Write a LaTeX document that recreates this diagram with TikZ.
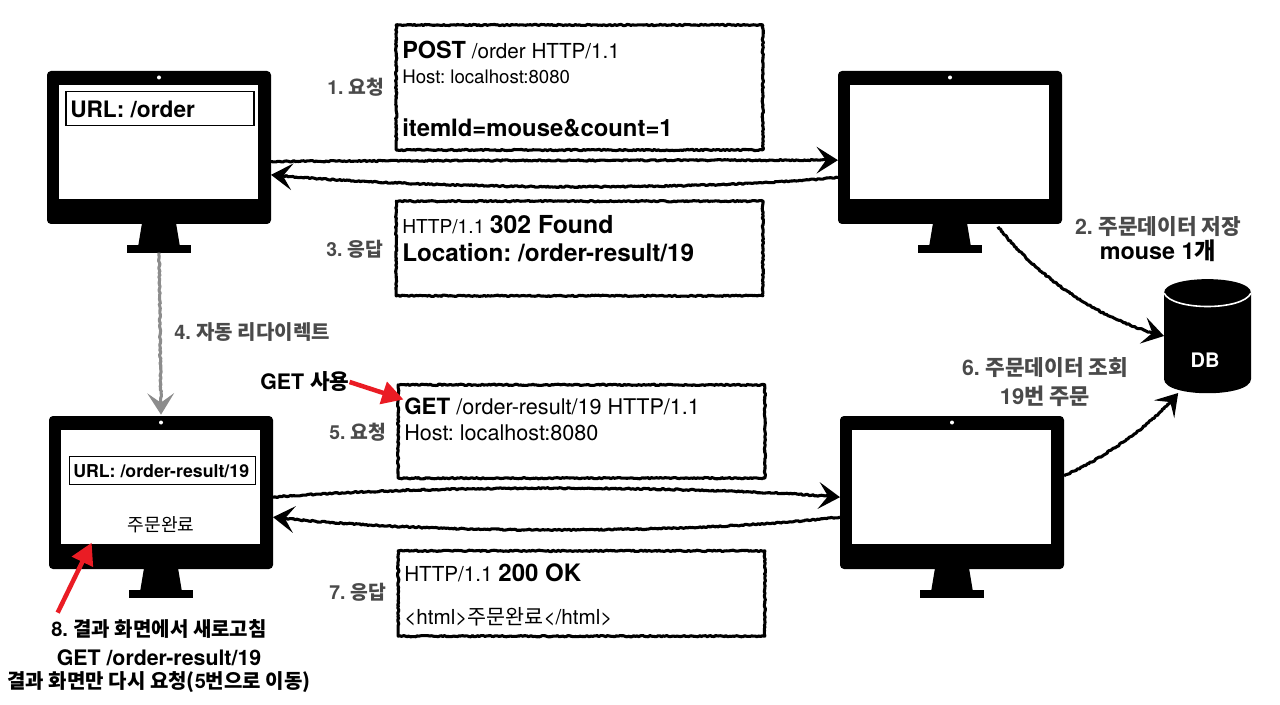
\documentclass[tikz,border=0pt]{standalone}
\usepackage{fontspec}
\setmainfont{TeX Gyre Heros}
\newfontfamily\kofont{Noto Sans CJK KR}
\newcommand{\ko}[1]{{\kofont #1}}
\usetikzlibrary{arrows.meta,decorations.pathmorphing}
\newcommand{\fs}[1]{\fontsize{#1}{#1}\selectfont}
\definecolor{stepgray}{HTML}{4A4A4A}
\definecolor{markred}{HTML}{EA1C24}
\tikzset{
    sketch/.style={line join=round,decorate,decoration={random steps,segment length=1.3pt,amplitude=0.5pt,post length=5pt}},
    monitor/.style={fill=black,rounded corners=3pt,minimum width=168pt,minimum height=114.75pt,inner sep=0pt,outer sep=0pt},
    screen/.style={fill=white,minimum width=149.25pt,minimum height=85.5pt,inner sep=0pt,outer sep=0pt},
    camdot/.style={fill=white,circle,minimum size=3pt,inner sep=0pt},
    standbase/.style={fill=black,minimum width=48pt,minimum height=5.5pt,inner sep=0pt,outer sep=0pt},
    urlbox/.style={draw,line width=0.8pt,fill=white,inner sep=0pt,outer sep=0pt},
    reqbox/.style={draw,sketch,line width=2.3pt,minimum width=275pt,inner sep=0pt,outer sep=0pt},
    boxtext/.style={anchor=north west,align=left,inner sep=0pt},
    steplabel/.style={text=stepgray,font=\bfseries\fs{14.5},inner sep=0pt},
    flow/.style={sketch,line width=2.3pt,-{Stealth[length=16pt,width=20pt,inset=7pt]}},
    markarrow/.style={draw=markred,line width=3.4pt,-{Triangle[length=16pt,width=17pt]},markred},
}
\begin{document}
\frenchspacing
\begin{tikzpicture}[x=0.75pt,y=-0.75pt]
    \useasboundingbox (0,0) rectangle (1280,705);
    \pgfmathsetseed{19}

    % four monitors, given by their top left corner
    \foreach \name/\x/\y in {client1/47/71,server1/838/71,client2/49/416,server2/840/416}{
        \node[monitor] (\name) at (\x+112,\y+76.5) {};
        \node[screen] (\name screen) at (\x+111.5,\y+71) {};
        \node[camdot] (\name cam) at (\x+112,\y+6.5) {};
        \fill (\x+95,\y+152) -- (\x+129,\y+152) -- (\x+133,\y+176) -- (\x+91,\y+176) -- cycle;
        \node[standbase] (\name base) at (\x+112,\y+178) {};
    }

    \node[urlbox,minimum width=141pt,minimum height=26pt] (url1) at (160,108.5) {};
    \node[anchor=base west,inner sep=0pt,font=\bfseries\fs{17}] (url1text) at (70,118) {URL: /order};
    \node[urlbox,minimum width=140pt,minimum height=21.5pt] (url2) at (162.5,470.5) {};
    \node[anchor=base west,inner sep=0pt,font=\bfseries\fs{13.3}] (url2text) at (73,477) {URL: /order-result/19};
    \node[inner sep=0pt,font=\fs{13.6}] (done) at (161,525) {\ko{주문완료}};

    % messages
    \node[reqbox,minimum height=93.75pt] (req1) at (579.5,87.5) {};
    \node[reqbox,minimum height=71pt] (res1) at (579.5,248.5) {};
    \node[reqbox,minimum height=70pt] (req2) at (581.5,431.5) {};
    \node[reqbox,minimum height=64pt] (res2) at (581.5,593.5) {};

    \node[boxtext,font=\fontsize{14}{18.75}\selectfont] (req1text) at (402,41) {{\bfseries\fontsize{17.6}{18.75}\selectfont POST}\fontsize{15.5}{18.75}\selectfont{} /order HTTP/1.1\\Host: localhost:8080\\[21pt]{\bfseries\fontsize{17.9}{18.75}\selectfont itemId=mouse\&count=1}};
    \node[boxtext,font=\fontsize{14.4}{21}\selectfont] (res1text) at (402,215) {HTTP/1.1 {\bfseries\fontsize{18.6}{21}\selectfont 302 Found}\\{\bfseries\fontsize{18.2}{21}\selectfont Location: /order-result/19}};
    \node[boxtext,font=\fontsize{16.2}{19.5}\selectfont] (req2text) at (404,398) {{\bfseries\fontsize{16.8}{19.5}\selectfont GET} /order-result/19 HTTP/1.1\\Host: localhost:8080};
    \node[boxtext,font=\fontsize{15.5}{32.5}\selectfont] (res2text) at (404,563) {HTTP/1.1 {\bfseries\fontsize{18}{32.5}\selectfont 200 OK}\\<html>\ko{주문완료}</html>};

    \node[steplabel] (step1) at (356,87) {1. \ko{요청}};
    \node[steplabel] (step3) at (355,249) {3. \ko{응답}};
    \node[steplabel] (step5) at (358,432) {5. \ko{요청}};
    \node[steplabel] (step7) at (358,592) {7. \ko{응답}};
    \node[steplabel,anchor=west,font=\bfseries\fs{15}] (step4) at (174,332) {4. \ko{자동 리다이렉트}};
    \node[steplabel,font=\bfseries\fs{16}] (step2) at (1158,227) {2. \ko{주문데이터 저장}};
    \node[inner sep=0pt,font=\bfseries\fs{17.5}] (mouse) at (1158,251) {mouse 1\ko{개}};
    \node[steplabel,font=\bfseries\fs{16}] (step6) at (1045,368) {6. \ko{주문데이터 조회}};
    \node[steplabel,font=\bfseries\fs{16.5}] (order) at (1045,396) {19\ko{번 주문}};
    \node[anchor=west,inner sep=0pt,font=\bfseries\fs{16}] (getuse) at (260,382) {GET \ko{사용}};
    \node[inner sep=0pt,font=\bfseries\fs{15}] (step8) at (159,629) {8. \ko{결과 화면에서 새로고침}};
    \node[inner sep=0pt,font=\bfseries\fs{16}] (again) at (159,658) {GET /order-result/19};
    \node[inner sep=0pt,font=\bfseries\fs{15}] (only) at (159,682) {\ko{결과 화면만 다시 요청(}5\ko{번으로 이동)}};

    % database
    \fill (1164,293) .. controls (1164,274.5) and (1251,274.5) .. (1251,293) -- (1251,379) .. controls (1251,398) and (1164,398) .. (1164,379) -- cycle;
    \draw[white,line width=1.2pt] (1164,293) .. controls (1172,311) and (1243,311) .. (1251,293);
    \node[minimum width=65.25pt,minimum height=85.5pt,inner sep=0pt,outer sep=0pt] (db) at (1207.5,336) {};
    \node[text=white,inner sep=0pt,font=\bfseries\fs{15}] (dblabel) at (1205,360) {DB};

    % flows
    \draw[flow] ([yshift=-10.5pt]client1.east) .. controls +(150,-1) and +(-150,0) .. ([yshift=-9.5pt]server1.west);
    \draw[flow] ([yshift=-22.5pt]server1.west) .. controls +(-150,14) and +(150,14) .. ([yshift=-20.5pt]client1.east);
    \draw[flow] ([yshift=-3.5pt]client2.east) .. controls +(150,-12) and +(-150,-12) .. ([yshift=-3.5pt]server2.west);
    \draw[flow] ([yshift=-18.5pt]server2.west) .. controls +(-150,17) and +(150,17) .. ([yshift=-18.5pt]client2.east);
    \draw[flow,draw=gray!90,gray!90] (client1base) -- ([yshift=1pt]client2.north);
    \draw[flow] ([xshift=-3pt,yshift=-2pt]server1.south east |- server1.south) ++(-60,0) .. controls +(33,43) and +(-72,-18) .. (db.west);
    \draw[flow] ([yshift=12.5pt]server2.east) .. controls +(44,-20) and +(-27,32) .. ([xshift=-22pt]db.south);
    \draw[markarrow] (getuse.east) -- ([xshift=4pt,yshift=-11pt]req2.north west);
    \draw[markarrow] ([xshift=-76pt,yshift=5pt]step8.north) -- ([xshift=23pt,yshift=1pt]client2screen.south west);
\end{tikzpicture}
\end{document}
